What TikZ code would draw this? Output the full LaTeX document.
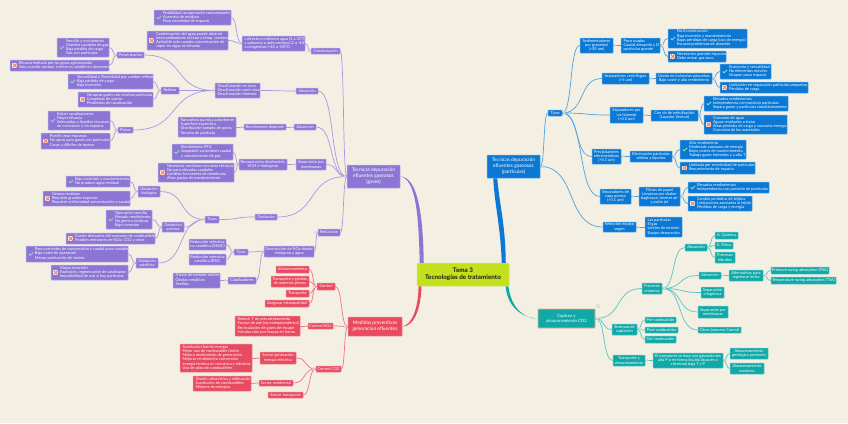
\documentclass[tikz,border=0pt]{standalone}
\usepackage{fontspec}
\setmainfont{Lato}
\usetikzlibrary{calc}
\definecolor{paper}{HTML}{F4EFE3}
\definecolor{pbox}{HTML}{8C76D5}\definecolor{pbrd}{HTML}{BDB1EA}\definecolor{pcon}{HTML}{A898E3}
\definecolor{bbox}{HTML}{0A78D4}\definecolor{bbrd}{HTML}{5FAEE8}\definecolor{bcon}{HTML}{4BA3E0}
\definecolor{tbox}{HTML}{10A9A8}\definecolor{tbrd}{HTML}{66CFCB}\definecolor{tcon}{HTML}{56C6C4}
\definecolor{rbox}{HTML}{E84A60}\definecolor{rbrd}{HTML}{F58A9A}\definecolor{rcon}{HTML}{F2738A}
\definecolor{lime}{HTML}{C3E01C}
\definecolor{orng}{HTML}{F4A97F}
\definecolor{tickc}{HTML}{8FE0A8}
\definecolor{crossc}{HTML}{EE7B5E}
\tikzset{
 base/.style={rounded corners=.5pt,inner sep=0pt,line width=.5pt,text=white,align=center,
   font=\fontsize{3.95}{4.2}\selectfont},
 pu/.style={base,fill=pbox,draw=pbrd},
 bl/.style={base,fill=bbox,draw=bbrd},
 te/.style={base,fill=tbox,draw=tbrd},
 re/.style={base,fill=rbox,draw=rbrd},
 mid/.style={font=\fontsize{4.9}{5.9}\selectfont},
 capst/.style={draw=orng,line width=.9pt,font=\fontsize{4.3}{5.4}\selectfont},
 rootst/.style={rounded corners=1pt,inner sep=0pt,fill=lime,draw=lime!70!white,line width=.5pt,text=black!90,
   align=center,font=\fontsize{6.3}{7.2}\selectfont\bfseries},
 sc/.style={to path={let \p1=(\tikztostart),\p2=(\tikztotarget) in
   .. controls ({\x1+0.6*(\x2-\x1)},\y1) and ({\x2-0.6*(\x2-\x1)},\y2) .. (\tikztotarget)}},
 pl/.style={draw=pcon,line width=.7pt,sc},
 bk/.style={draw=bcon,line width=.7pt,sc},
 tk/.style={draw=tcon,line width=.7pt,sc},
 rk/.style={draw=rcon,line width=.7pt,sc},
 knob/.style={draw=black!22,fill=paper,line width=.35pt},
}
\newcommand{\bxcalc}[4]{\pgfmathsetmacro\bxw{#3-#1}\pgfmathsetmacro\bxh{#4-#2}%
 \pgfmathsetmacro\bxcx{(#1+#3)/2}\pgfmathsetmacro\bxcy{(#2+#4)/2}}
% centred text
\newcommand{\bc}[7]{\bxcalc{#3}{#4}{#5}{#6}%
 \node[#1,minimum width=\bxw pt,minimum height=\bxh pt] (#2) at (\bxcx,\bxcy) {#7};}
% left-aligned text with a pad
\newcommand{\bp}[8]{\bxcalc{#3}{#4}{#5}{#6}%
 \node[#1,minimum width=\bxw pt,minimum height=\bxh pt] (#2) at (\bxcx,\bxcy)
  {\makebox[\bxw pt][l]{\hspace*{#7pt}\begin{tabular}{@{}l@{}}#8\end{tabular}}};}
\newcommand{\bq}[7]{\bp{#1}{#2}{#3}{#4}{#5}{#6}{2.5}{#7}}
% tick box
\newcommand{\bt}[7]{\bp{#1}{#2}{#3}{#4}{#5}{#6}{9}{#7}%
 \draw[tickc,line width=.95pt] ($(#2.west)+(3,0)$) -- ($(#2.west)+(4.5,1.3)$) -- ($(#2.west)+(7.3,-1.6)$);}
% cross box
\newcommand{\bk}[7]{\bp{#1}{#2}{#3}{#4}{#5}{#6}{9}{#7}%
 \fill[white!85!crossc] ($(#2.west)+(2.6,-2.4)$) rectangle ($(#2.west)+(7.4,2.4)$);
 \draw[crossc,line width=1pt] ($(#2.west)+(3,-2)$) -- ($(#2.west)+(7,2)$) ($(#2.west)+(3,2)$) -- ($(#2.west)+(7,-2)$);}
% connectors with collapse knob on the parent side
\newcommand{\cnl}[3]{\draw[#1] (#2.west) to (#3.east);\draw[knob] ($(#2.west)+(-2,0)$) circle (1.1);}
\newcommand{\cnr}[3]{\draw[#1] (#2.east) to (#3.west);\draw[knob] ($(#2.east)+(2,0)$) circle (1.1);}
\begin{document}
\begin{tikzpicture}[x=1pt,y=-1pt]
\useasboundingbox (0,0) rectangle (848,423);
\fill[paper] (0,0) rectangle (848,423);
% ---------- nodes: purple
\bc{pu,mid}{tgas}{347}{165}{400}{188}{Técnicas depuración\\efluentes gaseosos\\(gases)}
\bc{pu}{cond}{311}{48}{340}{54}{Condensación}
\bq{pu}{cdir}{242}{36}{305}{51}{c.directo o indirecto agua (4 a 25ºC)\\c.salmuera o anticorrosivo (2 a -40ºC)\\c.criogenicos (-40 a -80ºC)}
\bt{pu}{posib}{154}{10}{231}{25}{Posibilidad recuperación contaminante\\Ausencia de residuos\\Poca necesidad de espacio}
\bk{pu}{conde}{147}{31}{228}{50}{Condensación del agua puede obstruir\\intercambiadores al estar a temp. menores de 0ºC\\Aplicable solo cuando concentración de\\vapor en algas es elevada}
\bc{pu}{absor}{296}{88}{318}{94}{Absorción}
\bq{pu}{desulf}{215}{83}{260}{98}{Desulfuración en seco\\Desulfuración semi-seco\\Desulfuración húmeda}
\bc{pu}{pulv}{117}{52}{144}{58}{Pulverización}
\bt{pu}{senc}{57}{38}{109}{57}{Sencillo y económicos\\Grandes caudales de gas\\Baja pérdida de carga\\Gas con partículas}
\bk{pu}{efic}{10}{60}{109}{71}{Eficacia limitada por las gotas aglomeradas\\Solo cuando contam. inertes es soluble en absorvente}
\bc{pu}{rell}{161}{87}{179}{94}{Relleno}
\bt{pu}{vers}{68}{74}{153}{89}{Versatilidad y flexibilidad por cambio relleno\\Baja pérdida de carga\\Baja inversión}
\bk{pu}{noapt}{78}{92}{153}{107}{No aptas gases con muchas partículas\\Complejas de operar\\Problemas de canalización}
\bc{pu}{plat}{118}{127}{133}{133}{Platos}
\bt{pu}{evit}{48}{111}{110}{130}{Evitan canalizaciones\\Mayor eficacia\\Adecuadas a líquidos viscosos,\\no corrosivos y sin espuma}
\bk{pu}{pued}{41}{133}{110}{149}{Puede crear espumas\\No aptas para gases con partículas\\Caras y difíciles de operar}
\bc{pu}{adsor}{294}{124}{316}{130}{Adsorción}
\bc{pu}{rend}{244}{124}{286}{130}{Rendimiento depende}
\bq{pu}{natur}{178}{117}{236}{137}{Naturaleza química adsorbente\\Superficie específica\\Distribución tamaño de poros\\Tamaño de partícula}
\bc{pu}{sepm}{296}{159}{326}{170}{Separación por\\membranas}
\bc{pu}{recup}{239}{159}{287}{170}{Recuperación disolventes,\\VCM e hidrógeno}
\bt{pu}{rendm}{172}{144}{233}{160}{Rendimiento 99\%\\Adaptable variaciones caudal\\y concentración de gas}
\bk{pu}{neces}{158}{163}{234}{182}{Necesario combinar con otras técnicas\\No para elevados caudales\\Cambios frecuentes de membrana\\Altos gastos de mantenimiento}
\bc{pu}{oxid}{255}{214}{277}{220}{Oxidación}
\bc{pu}{tipo}{205}{216}{219}{223}{Tipos}
\bc{pu}{obio}{138}{186}{160}{197}{Oxidación\\biológica}
\bt{pu}{bajo}{66}{176}{130}{187}{Bajo inversión y mantenimiento\\No produce agua residual}
\bk{pu}{gene}{43}{191}{130}{206}{Genera residuos\\Requiere grandes espacios\\Requiere uniformidad concentración y caudal}
\bc{pu}{oqui}{162}{222}{184}{232}{Oxidación\\química}
\bt{pu}{oper}{106}{210}{152}{229}{Operación sencilla\\Elevado rendimiento\\No genera residuos\\Bajo inversión}
\bk{pu}{cost}{66}{233}{155}{244}{Costes derivados del consumo de combustible\\Posibles emisiones de NOx, CO2 y otros}
\bc{pu}{ocat}{136}{258}{158}{268}{Oxidación\\catalítica}
\bt{pu}{para}{26}{246}{128}{262}{Para corrientes de composición y caudal poco variable\\Bajo coste de operación\\Menor producción de óxidos}
\bk{pu}{mayo}{51}{265}{128}{280}{Mayor inversión\\Explosión, regeneración de catalizador\\Imposibilidad de uso si hay partículas}
\bc{pu}{reduc}{318}{229}{340}{236}{Reducción}
\bc{pu}{dest}{264}{246}{314}{257}{Destrucción de NOx dando\\nitrógeno y agua}
\bc{pu}{tipr}{234}{249}{248}{255}{Tipos}
\bc{pu}{rsnc}{189}{239}{226}{250}{Reducción selectiva\\no catalítica (RSNC)}
\bc{pu}{rsc}{189}{254}{226}{265}{Reducción selectiva\\catalítica (RSC)}
\bc{pu}{catal}{228}{277}{256}{284}{Catalizadores}
\bq{pu}{abas}{173}{273}{220}{288}{A base de metales nobles\\Óxidos metálicos\\Zeolitas}
% ---------- nodes: red
\bc{re,mid}{medi}{348}{317}{402}{336}{Medidas preventivas\\generacion efluentes}
\bc{re}{ctrl}{317}{283}{335}{290}{Control}
\bc{re}{alma}{276}{266}{309}{273}{Almacenamiento}
\bc{re}{trge}{271}{276}{309}{287}{Transporte y gestión\\de materias primas}
\bc{re}{trsp}{286}{290}{309}{297}{Transporte}
\bc{re}{aseg}{265}{300}{309}{307}{Asegurar estanqueidad}
\bc{re}{cnox}{308}{323}{333}{329}{Control NOx}
\bq{re}{redt}{235}{316}{300}{336}{Reducir T de precalentamiento\\Exceso de aire (no estequiométrico)\\Recirculación de gases de escape\\Introducción por etapas en horno}
\bc{re}{cco}{316}{366}{341}{372}{Control CO2}
\bc{re}{sgen}{260}{352}{296}{364}{Sector generación\\energía eléctrica}
\bq{re}{sust}{180}{344}{252}{372}{Sustitución fuente energía\\Mejor uso de combustible fósiles\\Mejora rendimiento de generación\\Mejorar rendimiento conversión\\energía térmica en mecánica y eléctrica\\Uso de pilas de combustibles}
\bc{re}{sres}{259}{380}{293}{386}{Sector residencial}
\bq{re}{dise}{193}{376}{251}{391}{Diseño urbanístico y edificación\\Sustitución de combustibles\\Mejores tecnologías}
\bc{re}{stra}{268}{392}{303}{398}{Sector transporte}
% ---------- root and second level
\bc{rootst}{tema}{417}{263}{509}{286}{Tema 3\\Tecnologías de tratamiento}
\bc{bl,mid}{tpar}{487}{155}{540}{178}{Tecnicas depuración\\efluentes gaseosos\\(particulas)}
\bc{te,capst}{capt}{538}{309}{595}{328}{Captura y\\almacenamiento CO2}
% ---------- nodes: blue
\bc{bl}{tipb}{548}{110}{562}{116}{Tipos}
\bc{bl}{sedi}{580}{38}{613}{53}{Sedimentadores\\por gravedad\\(>50 um)}
\bq{bl}{poco}{621}{38}{660}{53}{Poco usados\\Caudal elevando y D\\partículas grande}
\bt{bl}{faci}{668}{29}{747}{48}{Fácil construcción\\Baja inversión y mantenimiento\\Bajas pérdidas de carga (uso de energía)\\Escasos problemas de abrasión}
\bk{bl}{nece}{668}{51}{726}{62}{Necesarios grandes espacios\\Debe entrar gas seco}
\bc{bl}{cent}{602}{73}{649}{84}{Separadores centrífugos\\(>5 um)}
\bc{bl}{usad}{656}{73}{712}{84}{Usado en industrias pequeñas\\Bajo coste y alto rendimiento}
\bt{bl}{econ}{720}{64}{771}{79}{Economía y versatilidad\\No elementos móviles\\Ocupan poco espacio}
\bk{bl}{limi}{720}{82}{808}{93}{Limitación en separación partículas pequeñas\\Pérdidas de carga}
\bc{bl}{humd}{610}{107}{643}{123}{Separadores por\\vía húmeda\\(>0,5 um)}
\bc{bl}{nebu}{651}{110}{698}{121}{Con sis de nebulización\\(Lavador Venturi)}
\bt{bl}{elev}{704}{96}{788}{111}{Elevados rendimientos\\Independencia con posición partículas\\Separa gases y partículas simultáneamente}
\bk{bl}{cons}{704}{115}{787}{134}{Consumo de agua\\Aguas residuales a tratar\\Altas pérdidas de carga y consumo energía\\Corrosión de los materiales}
\bc{bl}{prec}{592}{149}{621}{164}{Precipitadores\\electrostáticos\\(>0,1 um)}
\bc{bl}{elim}{630}{151}{672}{162}{Eliminación partículas\\sólidas y líquidas}
\bt{bl}{alto}{680}{140}{746}{159}{Alto rendimiento\\Moderado consumo de energía\\Bajos costes de mantenimiento\\Trabaja gases húmedos y a alta T}
\bk{bl}{lmit}{680}{162}{755}{174}{Limitado por resistividad de partículas\\Requerimiento de espacio}
\bc{bl}{capa}{600}{189}{631}{204}{Separadores de\\capa porosa\\(>0,1 um)}
\bc{bl}{filt}{639}{187}{680}{206}{Filtros de papel\\Limpieza por shaker\\baghouse, reverse air\\y pulse jet}
\bt{bl}{elv2}{688}{182}{769}{193}{Elevados rendimientos\\Independencia con posición de partículas}
\bk{bl}{camb}{688}{196}{752}{211}{Cambio periódico de tejidos\\Limitaciones asociadas al tejido\\Pérdidas de carga y energía}
\bc{bl}{sele}{603}{222}{636}{232}{Selección equipo\\según}
\bq{bl}{lasp}{645}{217}{682}{237}{Las partículas\\El gas\\Límites de emisión\\Equipo depuración}
% ---------- nodes: teal
\bc{te}{proc}{642}{283}{662}{294}{Procesos\\unitarios}
\bc{te}{absb}{685}{244}{707}{251}{Absorción}
\bc{te}{aqui}{715}{232}{738}{239}{A. Química}
\bc{te}{afis}{715}{242}{733}{249}{A. Física}
\bc{te}{phib}{715}{252}{735}{263}{Procesos\\híbridos}
\bc{te}{adsb}{699}{272}{721}{279}{Adsorción}
\bc{te}{alte}{729}{270}{763}{281}{Alternativas para\\regenerar lecho}
\bc{te}{psa}{771}{267}{829}{274}{Pressure swing adsorption (PSA)}
\bc{te}{tsa}{771}{277}{836}{284}{Temperature swing adsorption (TSA)}
\bc{te}{crio}{701}{287}{724}{298}{Separación\\criogénica}
\bc{te}{memb}{698}{306}{728}{318}{Separación por\\membranas}
\bc{te}{otro}{698}{327}{741}{333}{Otros (proceso Carnot)}
\bc{te}{sist}{612}{324}{637}{335}{Sistemas de\\captación}
\bc{te}{prec2}{645}{317}{676}{323}{Pre-combustión}
\bc{te}{post}{645}{327}{678}{333}{Post-combustión}
\bc{te}{oxic}{645}{336}{676}{343}{Oxi-combustión}
\bc{te}{tran}{613}{355}{645}{366}{Transporte y\\almacenamiento}
\bc{te}{eltr}{653}{353}{723}{368}{El transporte se hace por gaseoductos\\alta P o en forma líquida (buques o\\cisternas) baja T y P}
\bc{te}{ageo}{730}{348}{768}{359}{Almacenamiento\\geológico profundo}
\bc{te}{aoce}{730}{363}{764}{374}{Almacenamiento\\oceánico}
% ---------- main branches (tapered)
\fill[pbox] ([xshift=7pt]tema.north west) .. controls (423,215) and (418,177) .. (tgas.east)
  .. controls (416,179) and (418.5,215) .. ([xshift=3pt]tema.north west) -- cycle;
\fill[bbox] ([xshift=89pt]tema.north west) .. controls (505.5,225) and (499.5,205) .. ([xshift=10.5pt]tpar.south west)
  -- ([xshift=6.5pt]tpar.south west) .. controls (494.5,205) and (500.5,225) .. ([xshift=85pt]tema.north west) -- cycle;
\fill[rbox] ([xshift=4.6pt]tema.south west) .. controls (421.5,305) and (415,327) .. (medi.east)
  .. controls (413,325) and (418.5,305) .. ([xshift=1.8pt]tema.south west) -- cycle;
\fill[tbox] ([xshift=-3.6pt]tema.south east) .. controls (507,305) and (520,317.5) .. (capt.west)
  .. controls (522,319) and (510.5,305) .. ([xshift=-.8pt]tema.south east) -- cycle;
\draw[knob] (598,306) circle (1.8);
% ---------- purple connectors
\foreach \c in {cond,absor,adsor,sepm,oxid,reduc}{\cnl{pl}{tgas}{\c}}
\cnl{pl}{cond}{cdir}
\foreach \c in {posib,conde}{\cnl{pl}{cdir}{\c}}
\cnl{pl}{absor}{desulf}
\foreach \c in {pulv,rell,plat}{\cnl{pl}{desulf}{\c}}
\foreach \c in {senc,efic}{\cnl{pl}{pulv}{\c}}
\foreach \c in {vers,noapt}{\cnl{pl}{rell}{\c}}
\foreach \c in {evit,pued}{\cnl{pl}{plat}{\c}}
\cnl{pl}{adsor}{rend}
\cnl{pl}{rend}{natur}
\cnl{pl}{sepm}{recup}
\foreach \c in {rendm,neces}{\cnl{pl}{recup}{\c}}
\cnl{pl}{oxid}{tipo}
\foreach \c in {obio,oqui,ocat}{\cnl{pl}{tipo}{\c}}
\foreach \c in {bajo,gene}{\cnl{pl}{obio}{\c}}
\foreach \c in {oper,cost}{\cnl{pl}{oqui}{\c}}
\foreach \c in {para,mayo}{\cnl{pl}{ocat}{\c}}
\cnl{pl}{reduc}{dest}
\foreach \c in {tipr,catal}{\cnl{pl}{dest}{\c}}
\foreach \c in {rsnc,rsc}{\cnl{pl}{tipr}{\c}}
\cnl{pl}{catal}{abas}
% ---------- red connectors
\foreach \c in {ctrl,cnox,cco}{\cnl{rk}{medi}{\c}}
\foreach \c in {alma,trge,trsp,aseg}{\cnl{rk}{ctrl}{\c}}
\cnl{rk}{cnox}{redt}
\foreach \c in {sgen,sres,stra}{\cnl{rk}{cco}{\c}}
\cnl{rk}{sgen}{sust}
\cnl{rk}{sres}{dise}
% ---------- blue connectors
\foreach \c in {tipb,sele}{\cnr{bk}{tpar}{\c}}
\foreach \c in {sedi,cent,humd,prec,capa}{\cnr{bk}{tipb}{\c}}
\cnr{bk}{sedi}{poco}
\foreach \c in {faci,nece}{\cnr{bk}{poco}{\c}}
\cnr{bk}{cent}{usad}
\foreach \c in {econ,limi}{\cnr{bk}{usad}{\c}}
\cnr{bk}{humd}{nebu}
\foreach \c in {elev,cons}{\cnr{bk}{nebu}{\c}}
\cnr{bk}{prec}{elim}
\foreach \c in {alto,lmit}{\cnr{bk}{elim}{\c}}
\cnr{bk}{capa}{filt}
\foreach \c in {elv2,camb}{\cnr{bk}{filt}{\c}}
\cnr{bk}{sele}{lasp}
% ---------- teal connectors
\foreach \c in {proc,sist,tran}{\cnr{tk}{capt}{\c}}
\foreach \c in {absb,adsb,crio,memb,otro}{\cnr{tk}{proc}{\c}}
\foreach \c in {aqui,afis,phib}{\cnr{tk}{absb}{\c}}
\cnr{tk}{adsb}{alte}
\foreach \c in {psa,tsa}{\cnr{tk}{alte}{\c}}
\foreach \c in {prec2,post,oxic}{\cnr{tk}{sist}{\c}}
\cnr{tk}{tran}{eltr}
\foreach \c in {ageo,aoce}{\cnr{tk}{eltr}{\c}}
\end{tikzpicture}
\end{document}
